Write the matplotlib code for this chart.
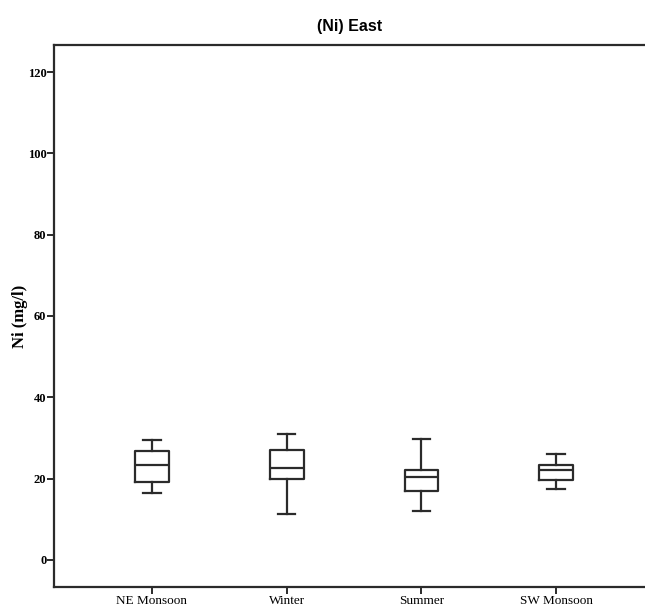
import matplotlib
matplotlib.use("Agg")
import matplotlib.pyplot as plt

categories = ["NE Monsoon", "Winter", "Summer", "SW Monsoon"]
whisker_low = [16.5, 11.3, 12.1, 17.4]
q1 = [19.2, 19.9, 17.0, 19.7]
median = [23.4, 22.5, 20.3, 22.0]
q3 = [26.7, 27.1, 22.2, 23.4]
whisker_high = [29.4, 30.9, 29.7, 26.0]
yticks = [0, 20, 40, 60, 80, 100, 120]

fig = plt.figure(figsize=(6.45, 6.10), dpi=100)
ax = fig.add_axes([0.0837, 0.0377, 0.9163, 0.8886])

stats = []
for i, c in enumerate(categories):
    stats.append(dict(label=c, whislo=whisker_low[i], q1=q1[i], med=median[i],
                      q3=q3[i], whishi=whisker_high[i], fliers=[]))

col = "#2b2b2b"
lw = 1.6
ax.bxp(stats, positions=range(1, len(categories) + 1), widths=0.25,
       capwidths=0.13, showfliers=False,
       boxprops=dict(color=col, linewidth=lw),
       medianprops=dict(color=col, linewidth=lw),
       whiskerprops=dict(color=col, linewidth=lw),
       capprops=dict(color=col, linewidth=lw))

ax.set_xlim(0.2725, 4.66)
ax.set_ylim(-6.7, 126.7)
ax.set_yticks(yticks)
ax.set_yticklabels([str(t) for t in yticks], fontfamily="Liberation Serif",
                   fontweight="bold", fontsize=9)
ax.set_xticks(range(1, len(categories) + 1))
ax.set_xticklabels(categories, fontfamily="Liberation Serif", fontsize=9.5)

for s in ["left", "top", "bottom"]:
    ax.spines[s].set_linewidth(1.6)
    ax.spines[s].set_color(col)
ax.spines["right"].set_visible(False)
ax.tick_params(axis="both", direction="out", length=5, width=1.4, color=col,
               pad=0.5)

ax.set_ylabel("Ni (mg/l)", fontfamily="Liberation Serif", fontweight="bold",
              fontsize=12, labelpad=0)
ax.set_title("(Ni) East", fontfamily="Liberation Sans", fontweight="bold",
             fontsize=11.5, pad=10)

fig.savefig("out.png", dpi=100)
